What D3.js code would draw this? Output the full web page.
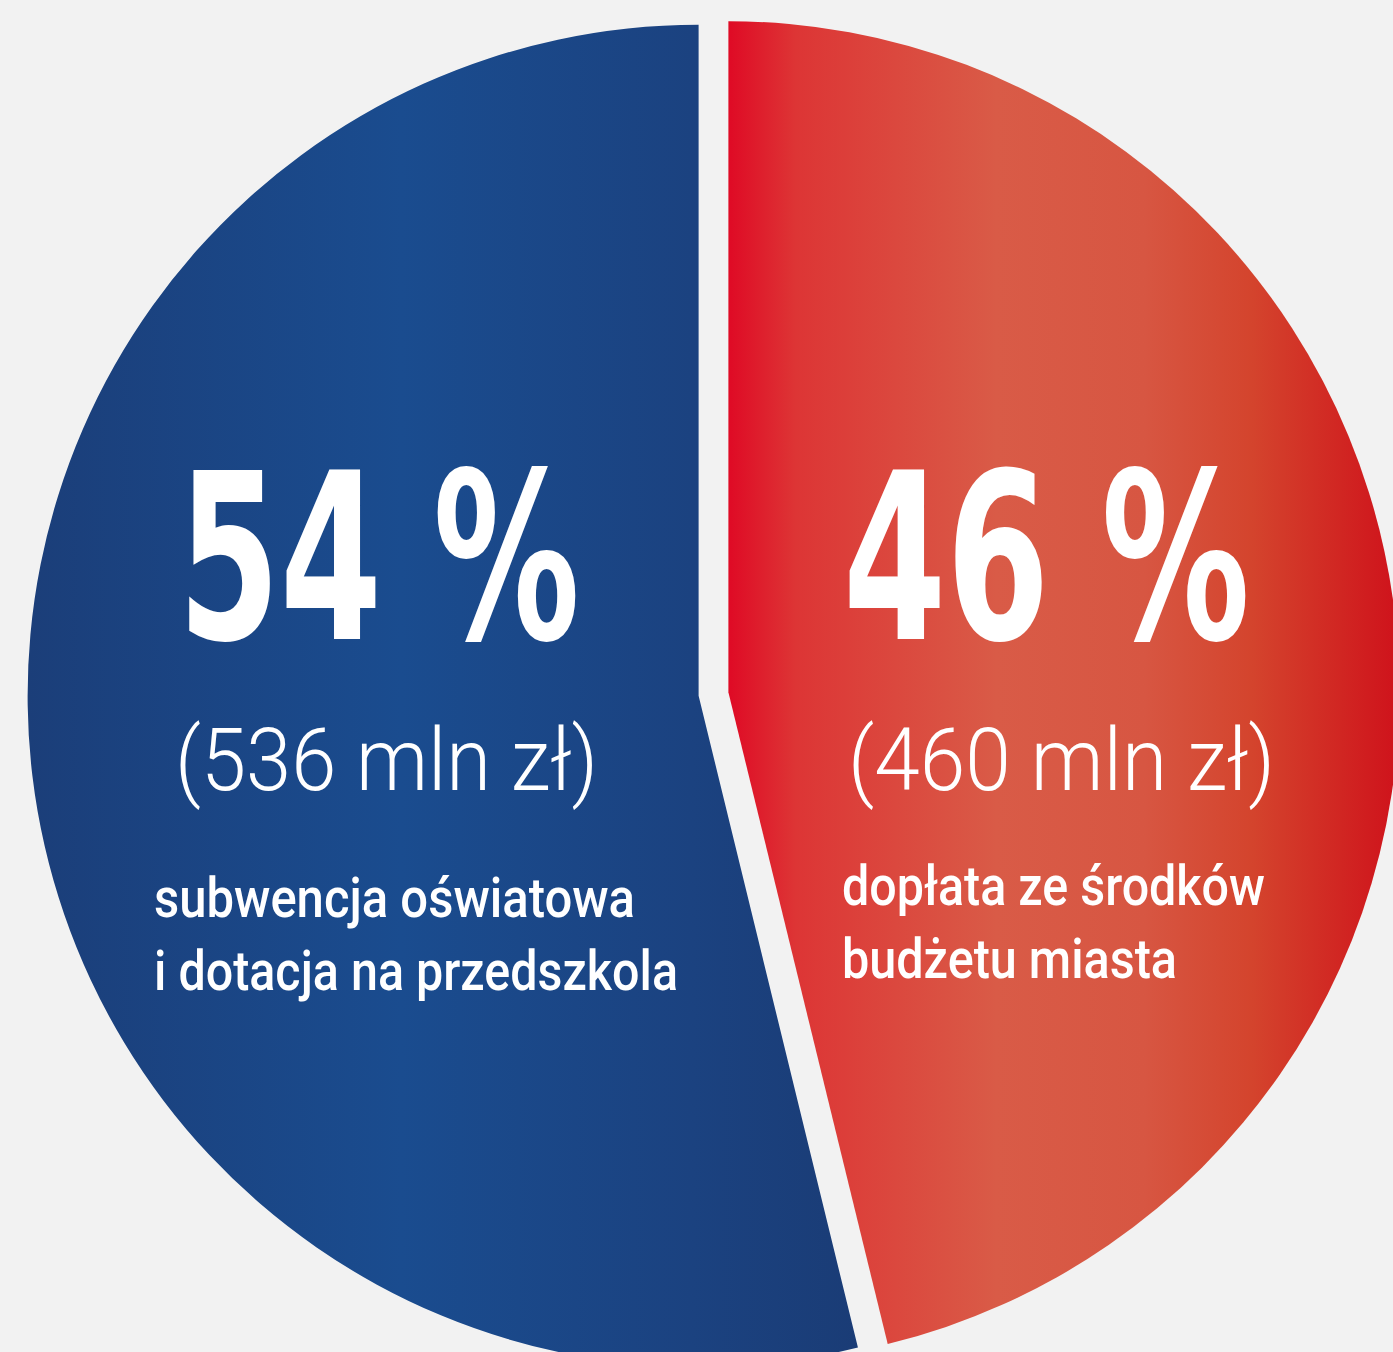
<!DOCTYPE html>
<html>
<head>
<meta charset="utf-8">
<script src="https://cdn.jsdelivr.net/npm/d3@7"></script>
<style>
	html, body { margin: 0; padding: 0; background: #f2f2f2; }
	svg { display: block; }
</style>
</head>
<body>
<div id="pie_chart"></div>
<script>
// kwoty w mln zł, kolejność: lewy (niebieski), prawy (czerwony)
var amounts = [536, 460];
var percentLabels = ["54 %", "46 %"];
var amountLabels = ["(536 mln zł)", "(460 mln zł)"];
var descLines = [
	["subwencja oświatowa", "i dotacja na przedszkola"],
	["dopłata ze środków", "budżetu miasta"]
];
var gradientIds = ["gradBlue", "gradRed"];

var width = 1393,
	height = 1352,
	cx = 713.5,
	cy = 694,
	radius = 671,
	explode = 15;

var svg = d3.select("#pie_chart")
	.append("svg")
	.attr("width", width)
	.attr("height", height);

svg.append("rect")
	.attr("width", width)
	.attr("height", height)
	.attr("fill", "#f2f2f2");

var defs = svg.append("defs");

var blue = defs.append("linearGradient").attr("id", "gradBlue")
	.attr("x1", 0).attr("x2", 1).attr("y1", 0).attr("y2", 0);
[[0, "#1b3e79"], [0.45, "#1a4c8f"], [0.8, "#1b4280"], [1, "#1a3c76"]].forEach(function(s) {
	blue.append("stop").attr("offset", s[0]).attr("stop-color", s[1]);
});

var red = defs.append("linearGradient").attr("id", "gradRed")
	.attr("x1", 0).attr("x2", 1).attr("y1", 0).attr("y2", 0);
[[0, "#df0a25"], [0.1, "#dd3535"], [0.4, "#d95b47"], [0.62, "#d75642"], [0.78, "#d4442d"], [1, "#cf121b"]].forEach(function(s) {
	red.append("stop").attr("offset", s[0]).attr("stop-color", s[1]);
});

var total = d3.sum(amounts);
var start = -2 * Math.PI * amounts[0] / total;

var pie = d3.pie()
	.value(function(d) { return d; })
	.sort(null)
	.startAngle(start)
	.endAngle(start + 2 * Math.PI);

var arc = d3.arc()
	.innerRadius(0)
	.outerRadius(radius);

var g = svg.append("g")
	.attr("transform", "translate(" + cx + "," + cy + ")");

g.selectAll(".slice")
	.data(pie(amounts))
	.enter()
	.append("path")
	.attr("class", "slice")
	.attr("d", arc)
	.attr("fill", function(d, i) { return "url(#" + gradientIds[i] + ")"; })
	.attr("transform", function(d) {
		var mid = (d.startAngle + d.endAngle) / 2;
		return "translate(" + (explode * Math.sin(mid)) + "," + (-explode * Math.cos(mid)) + ")";
	});

// teksty
var textX = [[178, 175, 154], [843, 848, 842]];
var pctW = [402, 407];
var amtW = [423, 427];
var descW = [[481, 524], [423, 335]];
var descY = [[917, 990], [905, 978]];

var labels = svg.append("g").attr("fill", "#ffffff");

amounts.forEach(function(v, i) {
	labels.append("text")
		.attr("x", textX[i][0])
		.attr("y", 639)
		.attr("font-family", "'Liberation Sans Narrow', 'DejaVu Sans Condensed', sans-serif")
		.attr("font-weight", 700)
		.attr("font-size", 232)
		.attr("textLength", pctW[i])
		.attr("lengthAdjust", "spacingAndGlyphs")
		.text(percentLabels[i]);

	labels.append("text")
		.attr("x", textX[i][1])
		.attr("y", 790)
		.attr("font-family", "Roboto, sans-serif")
		.attr("font-weight", 300)
		.attr("font-size", 88)
		.attr("textLength", amtW[i])
		.attr("lengthAdjust", "spacingAndGlyphs")
		.text(amountLabels[i]);

	descLines[i].forEach(function(line, j) {
		labels.append("text")
			.attr("x", textX[i][2])
			.attr("y", descY[i][j])
			.attr("font-family", "Roboto, sans-serif")
			.attr("font-weight", 500)
			.attr("font-size", 56)
			.attr("textLength", descW[i][j])
			.attr("lengthAdjust", "spacingAndGlyphs")
			.text(line);
	});
});
</script>
</body>
</html>
